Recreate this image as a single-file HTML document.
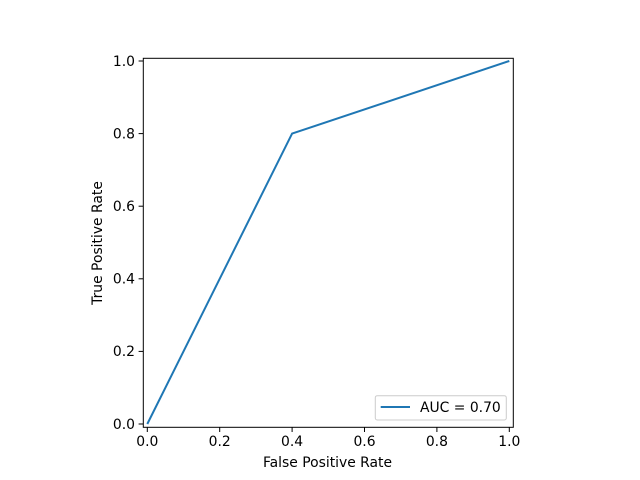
<!DOCTYPE html>
<html><head><meta charset="utf-8"><style>body{margin:0;background:#fff}svg{display:block}text{font-family:"DejaVu Sans",sans-serif;font-size:13.9px;fill:#000}</style></head><body>
<svg width="640" height="480" viewBox="0 0 640 480">
<rect width="640" height="480" fill="#fff"/>
<polyline points="147.3,424 292.1,133.6 509.3,61" fill="none" stroke="#1f77b4" stroke-width="2"/>
<rect x="143.3" y="58.3" width="370" height="369" fill="none" stroke="#000" stroke-width="1"/>
<g stroke="#000" stroke-width="1">
<line x1="147.3" y1="427.3" x2="147.3" y2="432"/><line x1="219.7" y1="427.3" x2="219.7" y2="432"/><line x1="292.1" y1="427.3" x2="292.1" y2="432"/><line x1="364.5" y1="427.3" x2="364.5" y2="432"/><line x1="436.9" y1="427.3" x2="436.9" y2="432"/><line x1="509.3" y1="427.3" x2="509.3" y2="432"/>
<line x1="143.3" y1="424" x2="138.6" y2="424"/><line x1="143.3" y1="351.4" x2="138.6" y2="351.4"/><line x1="143.3" y1="278.8" x2="138.6" y2="278.8"/><line x1="143.3" y1="206.2" x2="138.6" y2="206.2"/><line x1="143.3" y1="133.6" x2="138.6" y2="133.6"/><line x1="143.3" y1="61" x2="138.6" y2="61"/>
</g>
<g text-anchor="middle">
<text x="147.3" y="446">0.0</text><text x="219.7" y="446">0.2</text><text x="292.1" y="446">0.4</text><text x="364.5" y="446">0.6</text><text x="436.9" y="446">0.8</text><text x="509.3" y="446">1.0</text>
<text x="327.5" y="467">False Positive Rate</text>
<text transform="translate(102,243) rotate(-90)">True Positive Rate</text>
</g>
<g text-anchor="end">
<text x="135" y="428.8">0.0</text><text x="135" y="356.2">0.2</text><text x="135" y="283.6">0.4</text><text x="135" y="211">0.6</text><text x="135" y="138.4">0.8</text><text x="135" y="65.8">1.0</text>
</g>
<rect x="375.3" y="395.7" width="131" height="24.3" rx="2" fill="#fff" stroke="#ccc"/>
<line x1="380.7" y1="407" x2="410" y2="407" stroke="#1f77b4" stroke-width="2"/>
<text x="420" y="412">AUC = 0.70</text>
</svg>
</body></html>
